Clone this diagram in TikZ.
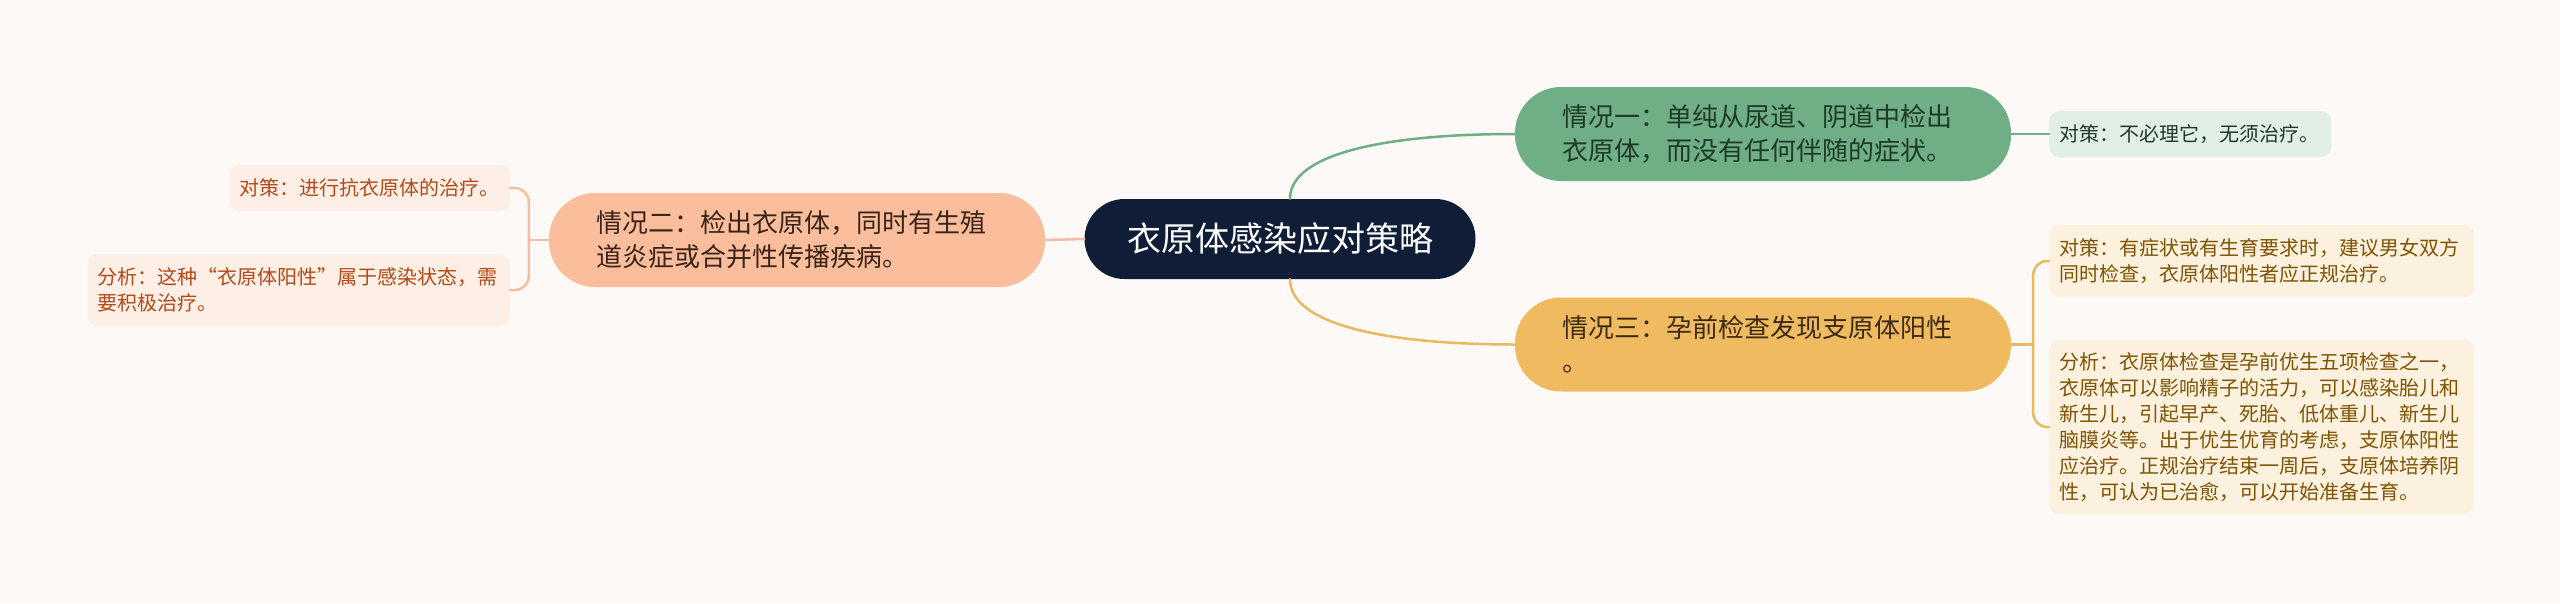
\documentclass[tikz,border=0pt]{standalone}
\usepackage{fontspec}
\newfontfamily\cjk{Noto Sans CJK SC}

\definecolor{paper}{HTML}{FDF9F7}
\definecolor{rootfill}{HTML}{0F1D36}
\definecolor{greenfill}{HTML}{70AF85}
\definecolor{greenleaf}{HTML}{E2EFE6}
\definecolor{greentext}{HTML}{1E3A28}
\definecolor{yellowfill}{HTML}{F0BA60}
\definecolor{yellowline}{HTML}{E8B863}
\definecolor{yellowleaf}{HTML}{FCF0DF}
\definecolor{yellowtext}{HTML}{7F5300}
\definecolor{yellowdark}{HTML}{3B2A12}
\definecolor{salmonfill}{HTML}{FBBE9D}
\definecolor{salmonline}{HTML}{F5BEA0}
\definecolor{salmonleaf}{HTML}{FDEEE6}
\definecolor{salmontext}{HTML}{B24A18}
\definecolor{salmondark}{HTML}{3A2318}

\begin{document}
\begin{tikzpicture}[
            x=1pt, y=-1pt,
            line cap=round,
            topic/.style={fill=rootfill, text=white, rounded corners=40pt,
                minimum width=391pt, minimum height=80pt, inner sep=0pt,
                font=\cjk\fontsize{34}{40}\selectfont},
            situation/.style={rounded corners=46pt, text width=402pt,
                inner xsep=47pt, inner ysep=0pt, minimum height=94pt, align=left,
                font=\cjk\fontsize{26}{34}\selectfont},
            leaf/.style={rounded corners=10pt, inner xsep=10pt, inner ysep=0pt,
                align=left, font=\cjk\fontsize{20}{26}\selectfont},
            branch/.style={line width=2.5pt},
        ]
        \fill[paper] (0,0) rectangle (2560,603);
        \useasboundingbox (0,0) rectangle (2560,603);

        % centre and first level
        \node[topic] (root) at (1280,239) {衣原体感染应对策略};
        \node[situation, fill=greenfill, text=greentext] (sit1) at (1763,134)
            {情况一：单纯从尿道、阴道中检出\\衣原体，而没有任何伴随的症状。};
        \node[situation, fill=yellowfill, text=yellowdark] (sit3) at (1763,344.5)
            {情况三：孕前检查发现支原体阳性\\。};
        \node[situation, fill=salmonfill, text=salmondark] (sit2) at (797,240)
            {情况二：检出衣原体，同时有生殖\\道炎症或合并性传播疾病。};

        % leaves
        \node[leaf, fill=greenleaf, text=greentext, text width=262pt, minimum height=46pt,
            anchor=west] (leafg1) at (2049,134) {对策：不必理它，无须治疗。};
        \node[leaf, fill=yellowleaf, text=yellowtext, text width=405pt, minimum height=72pt,
            anchor=west] (leafy1) at (2049,261)
            {对策：有症状或有生育要求时，建议男女双方\\同时检查，衣原体阳性者应正规治疗。};
        \node[leaf, fill=yellowleaf, text=yellowtext, text width=405pt, minimum height=174pt,
            anchor=west] (leafy2) at (2049,427)
            {分析：衣原体检查是孕前优生五项检查之一，\\衣原体可以影响精子的活力，可以感染胎儿和\\新生儿，引起早产、死胎、低体重儿、新生儿\\脑膜炎等。出于优生优育的考虑，支原体阳性\\应治疗。正规治疗结束一周后，支原体培养阴\\性，可认为已治愈，可以开始准备生育。};
        \node[leaf, fill=salmonleaf, text=salmontext, text width=260pt, minimum height=46pt,
            anchor=east] (leafs1) at (510,188) {对策：进行抗衣原体的治疗。};
        \node[leaf, fill=salmonleaf, text=salmontext, text width=402pt, minimum height=72pt,
            anchor=east] (leafs2) at (510,290)
            {分析：这种“衣原体阳性”属于感染状态，需\\要积极治疗。};

        % connectors
        \draw[branch, greenfill] ([xshift=10pt]root.north) .. controls +(0,-45) and +(-130,0) .. (sit1.west);
        \draw[branch, yellowline] ([xshift=10pt]root.south) .. controls +(0,45) and +(-130,0) .. (sit3.west);
        \draw[branch, salmonline] (root.west) -- (sit2.east);
        \draw[branch, greenfill] (sit1.east) -- (leafg1.west);

        \coordinate (fork3) at ([xshift=22pt]sit3.east);
        \draw[branch, yellowline] (sit3.east) -- (fork3);
        \draw[branch, yellowline, rounded corners=14pt] (leafy1.west) -| (fork3) |- (leafy2.west);

        \coordinate (fork2) at ([xshift=-20pt]sit2.west);
        \draw[branch, salmonline] (sit2.west) -- (fork2);
        \draw[branch, salmonline, rounded corners=14pt] (leafs1.east) -| (fork2) |- (leafs2.east);
        \end{tikzpicture}
\end{document}
